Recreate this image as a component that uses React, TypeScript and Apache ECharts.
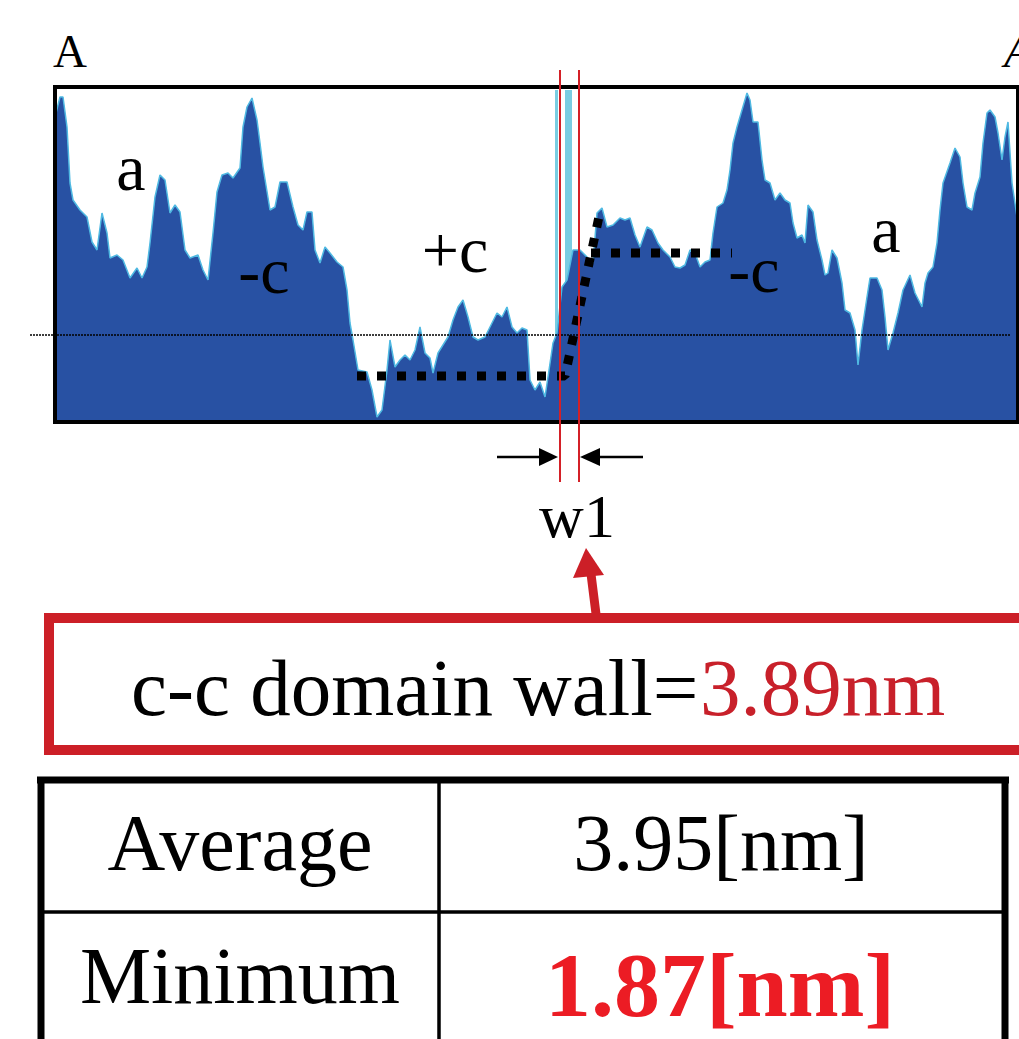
import React, { useEffect, useRef } from "react";
import * as echarts from "echarts";

// Height profile along A–A' (position, height in arbitrary px-like units)
const positions = [0, 1, 5, 8, 12, 15, 18, 25, 32, 37, 42, 47, 52, 55, 62, 68, 75, 82, 87, 92, 95, 100, 105, 110, 115, 120, 125, 130, 135, 143, 148, 153, 158, 162, 167, 173, 178, 185, 188, 192, 197, 202, 205, 208, 215, 220, 225, 232, 238, 243, 248, 252, 257, 260, 265, 270, 275, 282, 288, 292, 295, 298, 303, 312, 317, 322, 327, 332, 335, 340, 345, 350, 355, 360, 365, 370, 375, 378, 383, 388, 393, 398, 403, 408, 413, 418, 423, 430, 437, 442, 447, 452, 457, 462, 467, 472, 475, 480, 485, 490, 493, 498, 502, 507, 512, 518, 525, 532, 538, 542, 547, 552, 558, 565, 570, 575, 580, 585, 592, 597, 603, 608, 615, 620, 625, 630, 635, 640, 645, 650, 655, 658, 662, 668, 672, 675, 678, 682, 687, 692, 695, 698, 703, 707, 710, 715, 720, 725, 730, 735, 738, 742, 747, 750, 753, 758, 762, 767, 770, 773, 777, 782, 787, 790, 795, 800, 803, 807, 812, 815, 822, 827, 830, 833, 838, 843, 848, 855, 860, 867, 870, 873, 878, 882, 885, 888, 895, 900, 905, 908, 912, 917, 920, 925, 928, 932, 935, 940, 943, 947, 950, 953, 957, 962, 963];
const heights = [305, 309, 325, 325, 295, 239, 222, 212, 205, 180, 172, 209, 189, 164, 167, 162, 144, 154, 144, 155, 179, 225, 247, 242, 209, 217, 210, 172, 164, 167, 152, 142, 189, 230, 247, 249, 244, 254, 295, 315, 324, 302, 279, 255, 212, 215, 240, 240, 215, 197, 192, 210, 210, 172, 159, 175, 169, 160, 155, 132, 99, 82, 52, 50, 32, 5, 12, 52, 82, 55, 62, 67, 62, 72, 95, 69, 64, 49, 69, 77, 85, 102, 115, 122, 105, 85, 82, 85, 99, 109, 105, 115, 95, 89, 94, 92, 42, 32, 40, 25, 45, 79, 89, 135, 142, 172, 172, 165, 159, 209, 214, 195, 197, 204, 202, 204, 187, 175, 195, 192, 179, 172, 165, 155, 154, 157, 172, 169, 155, 160, 162, 189, 215, 219, 232, 252, 279, 295, 312, 329, 322, 300, 300, 262, 242, 239, 222, 229, 222, 219, 199, 184, 187, 179, 217, 210, 182, 162, 147, 149, 172, 164, 139, 112, 109, 92, 57, 92, 125, 144, 144, 132, 105, 72, 89, 109, 132, 147, 129, 115, 139, 149, 155, 179, 212, 239, 259, 274, 265, 239, 215, 212, 229, 245, 279, 309, 312, 305, 289, 262, 285, 300, 239, 205, 205];

const xRange = [0, 963];
const yRange = [0, 335];
const referenceLevel = 87;

// thick dotted guide: lower (+c) level rising to the upper (-c) level
const stepLowerX = [302, 510, 545];
const stepLowerY = [46, 46, 210];
const stepUpperX = [536, 677];
const stepUpperY = [169, 169];

// domain wall markers
const wallLines = [505, 524];
const cyanStrips = [[500, 503], [510, 517]];

const domainLabels = ["a", "-c", "+c", "-c", "a"];
const domainLabelX = [76, 209, 400, 699, 831];
const domainLabelBaseline = [232, 129, 150, 130, 170];

const tableRows = ["Average", "Minimum"];
const tableValues = ["3.95[nm]", "1.87[nm]"];
const wallTitle = "c-c domain wall=";
const wallValue = "3.89nm";

const SERIF = "'Liberation Serif', 'Times New Roman', serif";

export default function App() {
  const ref = useRef<HTMLDivElement>(null);
  useEffect(() => {
    const chart = echarts.init(ref.current!, null, { renderer: "svg" });
    const profile = positions.map((p, i) => [p, heights[i]]);
    chart.setOption({
      animation: false,
      grid: { left: 55, top: 87, width: 963, height: 335 },
      xAxis: { type: "value", min: xRange[0], max: xRange[1], show: false },
      yAxis: { type: "value", min: yRange[0], max: yRange[1], show: false },
      series: [
        {
          type: "line",
          data: profile,
          symbol: "none",
          z: 2,
          lineStyle: { color: "#4FB9E2", width: 1.5 },
          areaStyle: { color: "#2851A3", opacity: 1 },
        },
        {
          type: "line",
          data: stepLowerX.map((x, i) => [x, stepLowerY[i]]),
          symbol: "none",
          z: 5,
          lineStyle: { color: "#000", width: 9, type: [9, 11], cap: "butt" },
        },
        {
          type: "line",
          data: stepUpperX.map((x, i) => [x, stepUpperY[i]]),
          symbol: "none",
          z: 5,
          lineStyle: { color: "#000", width: 9, type: [9, 11], cap: "butt" },
        },
      ],
    });

    const px = (x: number, y: number) => chart.convertToPixel({ gridIndex: 0 }, [x, y]) as number[];
    const mid = (baseline: number, size: number) => baseline - 0.3375 * size;
    const els: any[] = [];

    // cyan strips (behind the profile)
    cyanStrips.forEach(([a, b]) => {
      const p1 = px(a, 332);
      const p2 = px(b, 0);
      els.push({ type: "rect", z: 1, shape: { x: p1[0], y: p1[1], width: p2[0] - p1[0], height: p2[1] - p1[1] }, style: { fill: "#7ACDE2" } });
    });

    // reference dotted line
    const r1 = px(-25, referenceLevel);
    const r2 = px(955, referenceLevel);
    els.push({ type: "line", z: 6, shape: { x1: r1[0], y1: r1[1], x2: r2[0], y2: r2[1] }, style: { stroke: "#000", lineWidth: 1.5, lineDash: [2, 1] } });

    // border
    const b1 = px(xRange[0], yRange[1]);
    const b2 = px(xRange[1], yRange[0]);
    els.push({ type: "rect", z: 8, shape: { x: b1[0], y: b1[1], width: b2[0] - b1[0], height: b2[1] - b1[1] }, style: { fill: "none", stroke: "#000", lineWidth: 4 } });

    // red wall lines
    wallLines.forEach((x) => {
      const t = px(x, 352);
      const bt = px(x, -60);
      els.push({ type: "line", z: 9, shape: { x1: t[0], y1: t[1], x2: bt[0], y2: bt[1] }, style: { stroke: "#D42027", lineWidth: 2 } });
    });

    // black arrows
    const ay = -35;
    const la1 = px(442, ay), la2 = px(492, ay), lt = px(503, ay), lb = px(484, ay);
    els.push({ type: "line", z: 9, shape: { x1: la1[0], y1: la1[1], x2: la2[0], y2: la2[1] }, style: { stroke: "#000", lineWidth: 2.5 } });
    els.push({ type: "polygon", z: 9, shape: { points: [[lt[0], lt[1]], [lb[0], lb[1] - 9], [lb[0], lb[1] + 9]] }, style: { fill: "#000" } });
    const ra1 = px(588, ay), ra2 = px(536, ay), rt = px(525, ay), rb = px(545, ay);
    els.push({ type: "line", z: 9, shape: { x1: ra1[0], y1: ra1[1], x2: ra2[0], y2: ra2[1] }, style: { stroke: "#000", lineWidth: 2.5 } });
    els.push({ type: "polygon", z: 9, shape: { points: [[rt[0], rt[1]], [rb[0], rb[1] - 9], [rb[0], rb[1] + 9]] }, style: { fill: "#000" } });

    // w1
    const w = px(522, -115);
    els.push({ type: "text", z: 9, x: w[0], y: mid(w[1], 62), style: { text: "w1", font: `62px ${SERIF}`, fill: "#000", align: "center", verticalAlign: "middle" } });

    // A / A'
    const aL = px(-2, 355);
    els.push({ type: "text", z: 9, x: aL[0], y: mid(aL[1], 47), style: { text: "A", font: `47px ${SERIF}`, fill: "#000", align: "left", verticalAlign: "middle" } });
    const aR = px(949, 355);
    els.push({ type: "text", z: 9, x: aR[0], y: mid(aR[1], 47), style: { text: "A", font: `italic 47px ${SERIF}`, fill: "#000", align: "left", verticalAlign: "middle" } });

    // domain labels
    domainLabels.forEach((t, i) => {
      const p = px(domainLabelX[i], domainLabelBaseline[i]);
      els.push({ type: "text", z: 9, x: p[0], y: mid(p[1], 66), style: { text: t, font: `66px ${SERIF}`, fill: "#000", align: "center", verticalAlign: "middle" } });
    });

    // red callout arrow
    els.push({ type: "line", z: 9, shape: { x1: 591, y1: 574, x2: 596, y2: 614 }, style: { stroke: "#CC1F27", lineWidth: 9 } });
    els.push({ type: "polygon", z: 9, shape: { points: [[586, 548], [573, 578], [604, 575]] }, style: { fill: "#CC1F27" } });

    // red box
    els.push({ type: "rect", z: 9, shape: { x: 49, y: 618, width: 1000, height: 132 }, style: { fill: "none", stroke: "#CC1F27", lineWidth: 10 } });
    els.push({ type: "text", z: 9, x: 131, y: mid(715, 81), style: { text: wallTitle, font: `81px ${SERIF}`, fill: "#000", align: "left", verticalAlign: "middle" } });
    els.push({ type: "text", z: 9, x: 700, y: mid(715, 81), style: { text: wallValue, font: `81px ${SERIF}`, fill: "#C8202A", align: "left", verticalAlign: "middle" } });

    // table
    const tl = (x1: number, y1: number, x2: number, y2: number, lw: number) =>
      els.push({ type: "line", z: 9, shape: { x1, y1, x2, y2 }, style: { stroke: "#000", lineWidth: lw } });
    tl(37, 780, 1009, 780, 7);
    tl(41, 777, 41, 1045, 7);
    tl(1005, 777, 1005, 1045, 7);
    tl(439, 780, 439, 1045, 3.5);
    tl(41, 912, 1005, 912, 3.5);
    els.push({ type: "text", z: 9, x: 240, y: mid(870, 80), style: { text: tableRows[0], font: `80px ${SERIF}`, fill: "#000", align: "center", verticalAlign: "middle" } });
    els.push({ type: "text", z: 9, x: 721, y: mid(870, 80), style: { text: tableValues[0], font: `80px ${SERIF}`, fill: "#000", align: "center", verticalAlign: "middle" } });
    els.push({ type: "text", z: 9, x: 240, y: mid(1003, 80), style: { text: tableRows[1], font: `80px ${SERIF}`, fill: "#000", align: "center", verticalAlign: "middle" } });
    els.push({ type: "text", z: 9, x: 720, y: mid(1016, 92), style: { text: tableValues[1], font: `bold 92px ${SERIF}`, fill: "#EC1C24", align: "center", verticalAlign: "middle" } });

    chart.setOption({ graphic: { elements: els } });
    return () => chart.dispose();
  }, []);
  return <div ref={ref} style={{ position: "absolute", left: 0, top: 0, width: 1019, height: 1039 }} />;
}
